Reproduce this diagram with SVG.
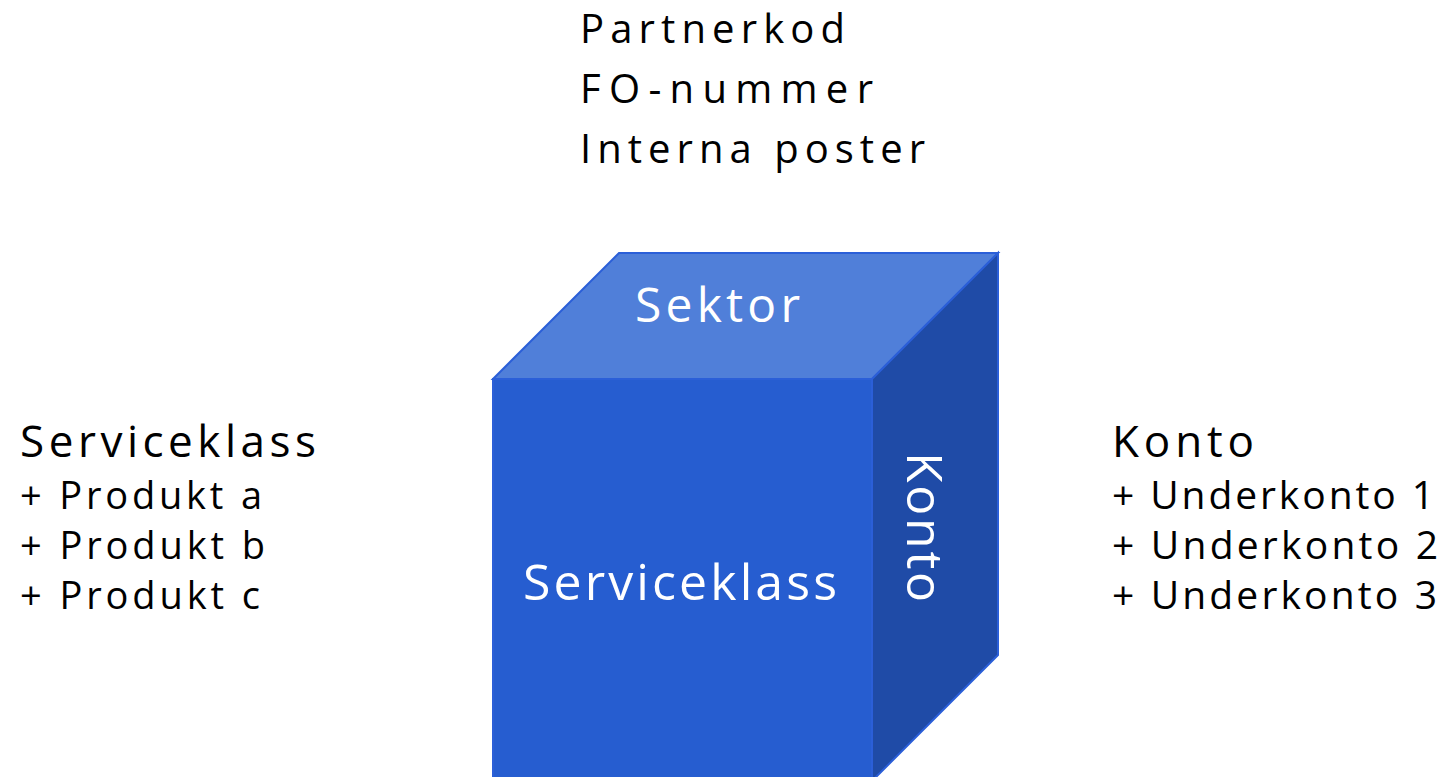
<svg xmlns="http://www.w3.org/2000/svg" width="1442" height="777" viewBox="0 0 1442 777">
<style>
text{font-family:"Open Sans","Noto Sans","Liberation Sans",sans-serif;}
.dark{fill:#000;}
.white{fill:#fff;}
.face{stroke:#2b5fd8;stroke-width:2;stroke-linejoin:miter;}
</style>
<rect width="1442" height="777" fill="#fff"/>
<g id="cube">
<polygon class="face" points="493,379 619,253 998,253 872,379" fill="#507fd9"/>
<polygon class="face" points="872,379 998,253 998,655 872,781" fill="#1f4ba7"/>
<rect class="face" x="493" y="379" width="379" height="402" fill="#265dd0"/>
<text class="white" x="635" y="322" font-size="48" textLength="165" lengthAdjust="spacing">Sektor</text>
<text class="white" x="523" y="600" font-size="50" textLength="314" lengthAdjust="spacing">Serviceklass</text>
<text class="white" transform="translate(907,452) rotate(90)" font-size="50" textLength="150" lengthAdjust="spacing">Konto</text>
</g>
<g id="top-labels">
<text class="dark" x="580" y="43" font-size="40" textLength="265" lengthAdjust="spacing">Partnerkod</text>
<text class="dark" x="580" y="103" font-size="40" textLength="293" lengthAdjust="spacing">FO-nummer</text>
<text class="dark" x="580" y="163" font-size="40" textLength="345" lengthAdjust="spacing">Interna poster</text>
</g>
<g id="left-labels">
<text class="dark" x="20" y="457" font-size="44" textLength="296" lengthAdjust="spacing">Serviceklass</text>
<text class="dark" x="20" y="509" font-size="38" textLength="242" lengthAdjust="spacing">+ Produkt a</text>
<text class="dark" x="20" y="559" font-size="38" textLength="245" lengthAdjust="spacing">+ Produkt b</text>
<text class="dark" x="20" y="609" font-size="38" textLength="240" lengthAdjust="spacing">+ Produkt c</text>
</g>
<g id="right-labels">
<text class="dark" x="1112" y="457" font-size="44" textLength="142" lengthAdjust="spacing">Konto</text>
<text class="dark" x="1112" y="509" font-size="39" textLength="322" lengthAdjust="spacing">+ Underkonto 1</text>
<text class="dark" x="1112" y="559" font-size="39" textLength="326" lengthAdjust="spacing">+ Underkonto 2</text>
<text class="dark" x="1112" y="609" font-size="39" textLength="325" lengthAdjust="spacing">+ Underkonto 3</text>
</g>
<g id="connectors"></g>
</svg>
